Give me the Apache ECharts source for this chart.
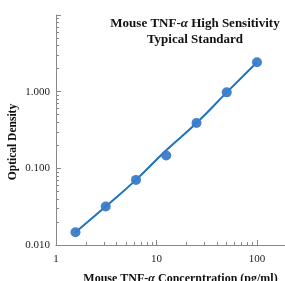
<!DOCTYPE html>
<html><head><meta charset="utf-8">
<script src="https://cdn.jsdelivr.net/npm/echarts@6/dist/echarts.min.js"></script>
<style>html,body{margin:0;padding:0;background:#fff}#c{width:285px;height:281px}</style>
</head><body><div id="c"></div>
<script>
var concentrations = [1.5625, 3.125, 6.25, 12.5, 25, 50, 100];
var odValues = [0.0147, 0.0317, 0.0707, 0.147, 0.390, 0.979, 2.42];
var fitValues = [0.0147, 0.0317, 0.0707, 0.172, 0.390, 0.979, 2.42];
var xTickLabels = [1, 10, 100];
var yTickLabels = [0.01, 0.1, 1];
var xMinorTicks = [2,3,4,5,6,7,8,9,20,30,40,50,60,70,80,90];
var yMinorTicks = [0.02,0.03,0.04,0.05,0.06,0.07,0.08,0.09,0.2,0.3,0.4,0.5,0.6,0.7,0.8,0.9,2,3,4,5,6,7,8,9];
var yMajorTicks = [0.01, 0.1, 1, 10];
var xMajorTicks = [1, 10, 100];

var serif = '"Liberation Serif", "DejaVu Serif", serif';
var chart = echarts.init(document.getElementById('c'), null, {renderer: 'canvas'});
var axisCol = '#888';
function pairs(xs, ys){ return xs.map(function(x,i){ return [x, ys[i]]; }); }
chart.setOption({
  animation: false,
  title: {
    text: 'Mouse TNF-{i|α} High Sensitivity\nTypical Standard',
    left: 190, top: 11,
    textAlign: 'center',
    textStyle: {
      fontFamily: serif, fontWeight: 'bold', fontSize: 13, color: '#111', lineHeight: 16,
      rich: { i: { fontFamily: serif, fontWeight: 'bold', fontStyle: 'italic', fontSize: 13, color: '#111' } }
    }
  },
  grid: { left: 56, right: 0, top: 15, bottom: 36, containLabel: false, outerBoundsMode: 'none' },
  xAxis: [{
    type: 'log', min: 1, max: 190, logBase: 10,
    name: 'Mouse TNF-{i|α} Concerntration (pg/ml)',
    nameLocation: 'middle', nameGap: 28, nameMoveOverlap: false,
    nameTextStyle: { fontFamily: serif, fontWeight: 'bold', fontSize: 12, color: '#111', padding: [0,0,0,20],
      rich: { i: { fontFamily: serif, fontWeight: 'bold', fontStyle: 'italic', fontSize: 12, color: '#111' } } },
    axisLine: { show: true, lineStyle: { color: axisCol, width: 1 } },
    axisTick: { show: true, inside: true, length: 5, customValues: xMajorTicks, lineStyle: { color: axisCol } },
    axisLabel: { customValues: xTickLabels, fontFamily: serif, fontSize: 11, color: '#222', margin: 9,
      formatter: function(v){ return String(Math.round(v)); } },
    splitLine: { show: false }
  }, {
    type: 'log', min: 1, max: 190, logBase: 10, position: 'bottom',
    axisLine: { show: false },
    axisTick: { show: true, inside: true, length: 3, customValues: xMinorTicks, lineStyle: { color: axisCol } },
    axisLabel: { show: false }, splitLine: { show: false }
  }],
  yAxis: [{
    type: 'log', min: 0.01, max: 10, logBase: 10,
    name: 'Optical Density', nameLocation: 'middle', nameGap: 37, nameRotate: 90, nameMoveOverlap: false,
    nameTextStyle: { fontFamily: serif, fontWeight: 'bold', fontSize: 11.5, color: '#111', padding: [0, 24, 0, 0] },
    axisLine: { show: true, lineStyle: { color: axisCol, width: 1 } },
    axisTick: { show: true, inside: true, length: 5, customValues: yMajorTicks, lineStyle: { color: axisCol } },
    axisLabel: { customValues: yTickLabels, fontFamily: serif, fontSize: 11, color: '#222', margin: 6,
      formatter: function(v){ return v.toFixed(3); } },
    splitLine: { show: false }
  }, {
    type: 'log', min: 0.01, max: 10, logBase: 10, position: 'left',
    axisLine: { show: false },
    axisTick: { show: true, inside: true, length: 3, customValues: yMinorTicks, lineStyle: { color: axisCol } },
    axisLabel: { show: false }, splitLine: { show: false }
  }],
  series: [{
    type: 'line', name: 'fit', data: pairs(concentrations, fitValues),
    showSymbol: false, symbol: 'none', smooth: true,
    lineStyle: { color: '#1a73bd', width: 2 }, z: 2
  }, {
    type: 'scatter', name: 'standards', data: pairs(concentrations, odValues),
    symbol: 'circle', symbolSize: 10,
    itemStyle: { color: '#3a7cc8', opacity: 0.95 }, z: 3
  }]
});
</script></body></html>
